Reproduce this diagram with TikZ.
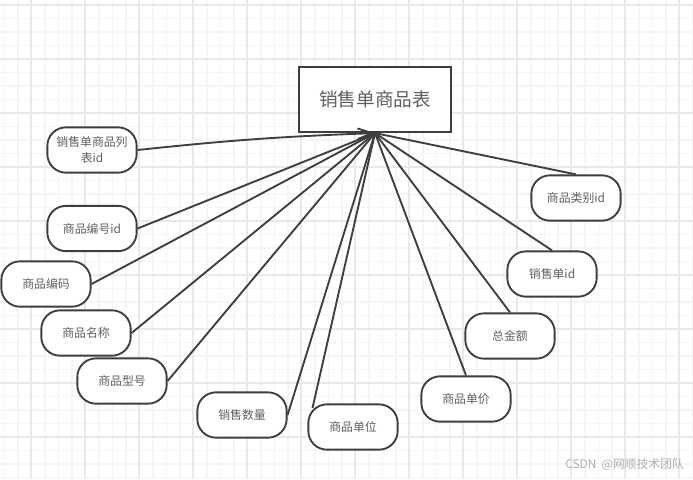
\documentclass[tikz,border=0pt]{standalone}
\usepackage{fontspec}
\setmainfont{Noto Sans CJK SC}
\usetikzlibrary{arrows.meta, calc, positioning}
\definecolor{gridminor}{RGB}{245,245,245}
\definecolor{gridmajor}{RGB}{233,233,233}
\definecolor{inkline}{RGB}{62,62,62}
\definecolor{inktext}{RGB}{95,95,95}
\definecolor{marktext}{RGB}{175,175,175}

\begin{document}
\begin{tikzpicture}[x=0.75pt, y=-0.75pt, line width=1.4pt,
    attr/.style={draw=inkline, fill=white, rectangle, rounded corners=14pt, minimum width=67pt, minimum height=34pt, inner sep=0pt, align=center, text=inktext, font=\fontsize{8.9pt}{12.5pt}\selectfont},
    link/.style={draw=inkline}]
\useasboundingbox (0,0) rectangle (693,479);
% Grid
\fill[white] (0,0) rectangle (693,479);
\foreach \gx in {0,...,51}
  \draw[gridminor, line width=0.8pt] (4.5+13.5*\gx,0) -- (4.5+13.5*\gx,479);
\foreach \gy in {0,...,35}
  \draw[gridminor, line width=0.8pt] (0,5+13.5*\gy) -- (693,5+13.5*\gy);
\foreach \gx in {0,...,12}
  \draw[gridmajor, line width=0.8pt] (31+54*\gx,0) -- (31+54*\gx,479);
\foreach \gy in {0,...,8}
  \draw[gridmajor, line width=0.8pt] (0,5+54*\gy) -- (693,5+54*\gy);

% Nodes
\node[draw=inkline, fill=white, minimum width=114pt, minimum height=49pt, inner sep=0pt, text=inktext, font=\fontsize{14pt}{18pt}\selectfont] (sales) at (375,99.5) {销售单商品表};
\node[attr] (listid) at (92,150) {销售单商品列\\表id};
\node[attr] (goodsid) at (92,228.5) {商品编号id};
\node[attr] (code) at (46,284) {商品编码};
\node[attr] (name) at (86,333) {商品名称};
\node[attr] (model) at (122,381) {商品型号};
\node[attr] (qty) at (242,415) {销售数量};
\node[attr] (unit) at (353,427) {商品单位};
\node[attr] (price) at (466,399) {商品单价};
\node[attr] (total) at (510,336) {总金额};
\node[attr] (orderid) at (552,274) {销售单id};
\node[attr] (typeid) at (576,198) {商品类别id};

% Connectors
\draw[link, -{Straight Barb[length=11pt, width=8pt]}] (listid.east) to[bend left=2] (sales.south);
\draw[link] (goodsid.east) -- (sales.south);
\draw[link] (code.east) -- (sales.south);
\draw[link] (name.east) -- (sales.south);
\draw[link] (model.east) -- (sales.south);
\draw[link] (qty.east) -- (sales.south);
\draw[link] ($(unit.center)+(-40.5,-19)$) -- (sales.south);
\draw[link] (price.north) -- (sales.south);
\draw[link] (total.north) -- (sales.south);
\draw[link] (orderid.north) -- (sales.south);
\draw[link] (typeid.north) -- (sales.south);

% Watermark
\node[text=marktext, inner sep=0pt, font=\fontsize{8.9pt}{10pt}\selectfont, anchor=east] (mark) at (685,465) {CSDN\hspace{2pt} @网顺技术团队};
\end{tikzpicture}
\end{document}
